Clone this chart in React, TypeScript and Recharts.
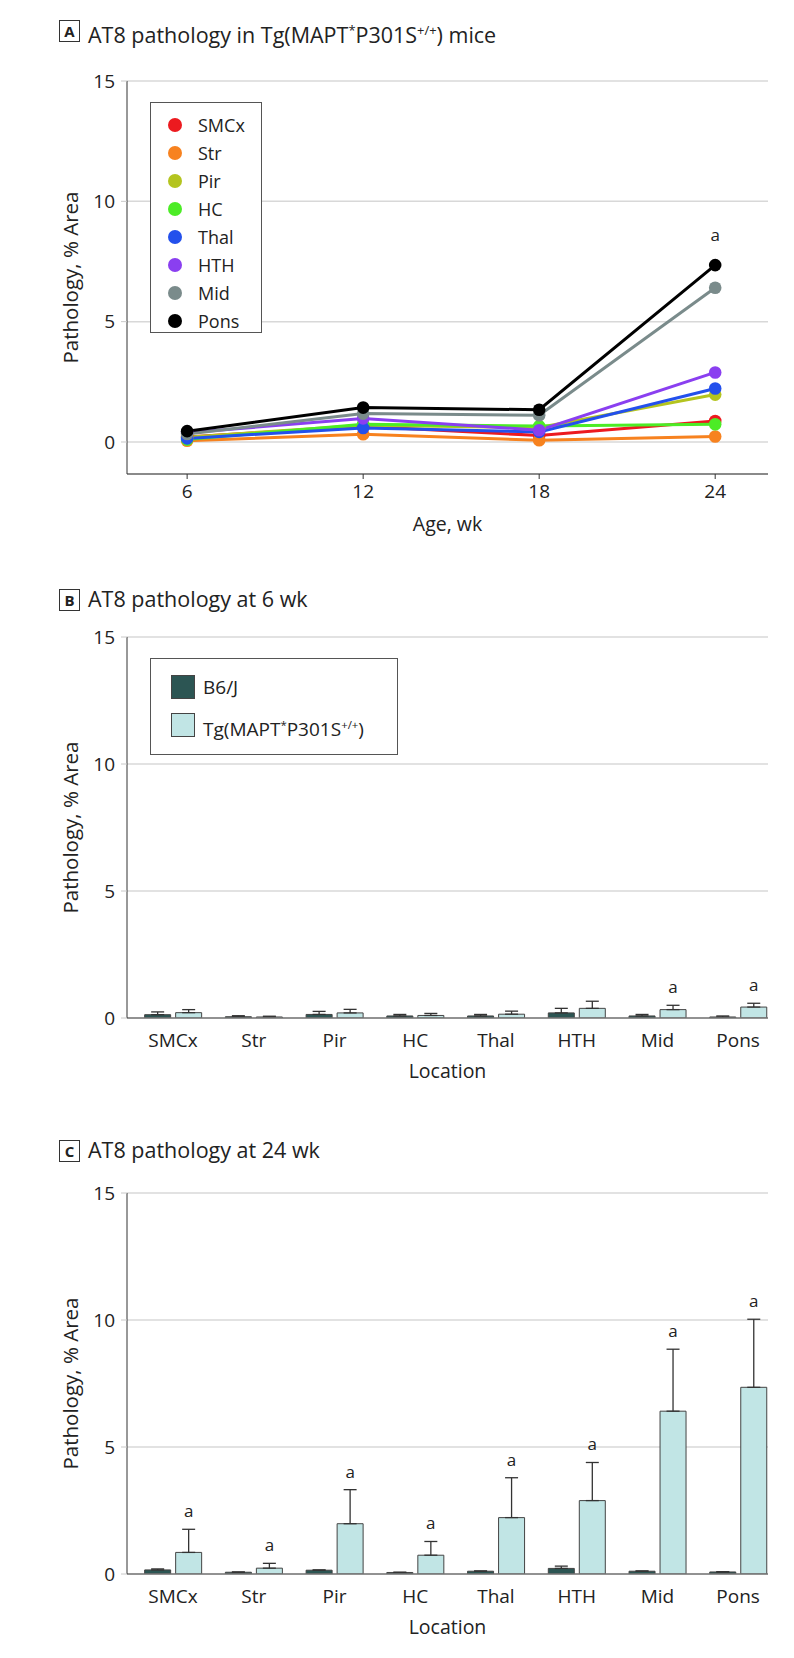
import React from 'react';
import { LineChart, Line, BarChart, Bar, XAxis, YAxis, CartesianGrid, ErrorBar, LabelList, Label } from 'recharts';

const FONT = "'Open Sans', 'Noto Sans', 'DejaVu Sans', sans-serif";
const INK = '#222';

const regions = ['SMCx', 'Str', 'Pir', 'HC', 'Thal', 'HTH', 'Mid', 'Pons'];
const regionColors = ['#ec1a1f', '#f7821f', '#b4c41f', '#4cec26', '#2350ec', '#8a3ff0', '#7a8b8b', '#000000'];

// panel A: % area at 6, 12, 18, 24 wk
const ages = [6, 12, 18, 24];
const smcx = [0.21, 0.65, 0.27, 0.87];
const str = [0.05, 0.32, 0.07, 0.23];
const pir = [0.2, 0.7, 0.6, 1.97];
const hc = [0.1, 0.74, 0.66, 0.74];
const thal = [0.15, 0.58, 0.42, 2.22];
const hth = [0.38, 0.98, 0.49, 2.89];
const mid = [0.33, 1.18, 1.11, 6.41];
const pons = [0.45, 1.43, 1.34, 7.35];
const ponsSig = [false, false, false, true];
const seriesA = [smcx, str, pir, hc, thal, hth, mid, pons];

// panel B: 6 wk
const b6At6 = [0.13, 0.05, 0.14, 0.08, 0.08, 0.2, 0.08, 0.04];
const b6At6Err = [0.11, 0.04, 0.12, 0.06, 0.06, 0.18, 0.06, 0.04];
const tgAt6 = [0.21, 0.04, 0.2, 0.1, 0.15, 0.38, 0.33, 0.43];
const tgAt6Err = [0.12, 0.03, 0.14, 0.08, 0.12, 0.28, 0.17, 0.15];
const sigAt6 = [false, false, false, false, false, false, true, true];

// panel C: 24 wk
const b6At24 = [0.16, 0.07, 0.15, 0.06, 0.11, 0.22, 0.11, 0.08];
const b6At24Err = [0.04, 0.01, 0.01, 0.01, 0.01, 0.09, 0.01, 0.01];
const tgAt24 = [0.85, 0.23, 1.98, 0.74, 2.22, 2.89, 6.41, 7.35];
const tgAt24Err = [0.91, 0.19, 1.34, 0.54, 1.57, 1.5, 2.44, 2.68];
const sigAt24 = [true, true, true, true, true, true, true, true];

const yTicks = [0, 5, 10, 15];
const regionTicks = [0, 1, 2, 3, 4, 5, 6, 7];

const tickStyle = { fill: INK, fontSize: 19, fontFamily: FONT };

const yTitle = (props: any) => {
  const vb = props.viewBox;
  const cx = vb.x + 3;
  const cy = vb.y + vb.height / 2;
  return (
    <text x={cx} y={cy} transform={`rotate(-90, ${cx}, ${cy})`} textAnchor="middle" dominantBaseline="central"
      fill={INK} fontSize={20.5} fontFamily={FONT}>
      Pathology, % Area
    </text>
  );
};

const xTitle = (text: string, dy: number) => (props: any) => {
  const vb = props.viewBox;
  return (
    <text x={vb.x + vb.width / 2} y={vb.y + dy} textAnchor="middle" fill={INK} fontSize={19.5} fontFamily={FONT}>
      {text}
    </text>
  );
};

const PanelTitle = ({ letter, top, children }: any) => (
  <div style={{ position: 'absolute', left: 0, top, height: 22, fontFamily: FONT, color: INK }}>
    <div style={{ position: 'absolute', left: 59, top: 0, width: 19, height: 20, border: '1px solid #333',
      fontWeight: 700, fontSize: 15, lineHeight: '20px', textAlign: 'center' }}>{letter}</div>
    <div style={{ position: 'absolute', left: 88, top: -4, fontSize: 21.5, whiteSpace: 'nowrap', lineHeight: '28px' }}>{children}</div>
  </div>
);

const Geno = () => (
  <>Tg(MAPT<sup style={{ fontSize: '0.6em' }}>*</sup>P301S<sup style={{ fontSize: '0.6em' }}>+/+</sup>)</>
);

const PanelA = () => {
  const rows = ages.map((age, i) => {
    const row: any = { age };
    regions.forEach((r, k) => { row[r] = seriesA[k][i]; });
    return row;
  });
  return (
    <LineChart width={794} height={545} data={rows} margin={{ top: 81, right: 26, left: 67, bottom: 31 }}>
      <CartesianGrid vertical={false} stroke="#d8d8d8" strokeWidth={1.5} />
      <XAxis dataKey="age" type="number" domain={[3.95, 25.8]} ticks={ages} allowDataOverflow height={40} tickSize={5}
        tickMargin={6} axisLine={{ stroke: '#333' }} tickLine={{ stroke: '#333' }} tick={tickStyle}>
        <Label content={xTitle('Age, wk', 57)} />
      </XAxis>
      <YAxis type="number" domain={[-1.33, 15]} ticks={yTicks} allowDataOverflow width={60} tickSize={6} tickMargin={6}
        axisLine={{ stroke: '#333' }} tickLine={{ stroke: '#c8c8c8' }} tick={tickStyle}>
        <Label content={yTitle} />
      </YAxis>
      {regions.map((r, k) => (
        <Line key={r} dataKey={r} stroke={regionColors[k]} strokeWidth={3} isAnimationActive={false}
          dot={{ r: 6.3, fill: regionColors[k], stroke: regionColors[k], strokeWidth: 0 }}>
          {r === 'Pons' && (
            <LabelList dataKey={r} content={(p: any) => ponsSig[p.index] ? (
              <text x={p.x} y={p.y - 24} textAnchor="middle" fill={INK} fontSize={17} fontFamily={FONT}>a</text>
            ) : null} />
          )}
        </Line>
      ))}
    </LineChart>
  );
};

const BarPanel = ({ height, top, b6, b6Err, tg, tgErr, sig }: any) => {
  const rows = regions.map((name, i) => ({
    idx: i, name, b6: b6[i], b6Err: [0, b6Err[i]], tg: tg[i], tgErr: [0, tgErr[i]],
  }));
  const sigLabel = (p: any) => {
    const vb = p.viewBox || p;
    const i = p.index;
    if (!sig[i]) return null;
    const perUnit = vb.height / tg[i];
    const errTop = vb.y - tgErr[i] * perUnit;
    return (
      <text x={vb.x + vb.width / 2} y={errTop - 12} textAnchor="middle" fill={INK} fontSize={17} fontFamily={FONT}>a</text>
    );
  };
  return (
    <BarChart width={794} height={height} data={rows} barGap={5}
      margin={{ top, right: 26, left: 67, bottom: height - top - 381 - 40 }}>
      <CartesianGrid vertical={false} stroke="#d8d8d8" strokeWidth={1.5} />
      <XAxis dataKey="idx" type="number" domain={[-0.57, 7.37]} ticks={regionTicks} interval={0} allowDataOverflow
        tickFormatter={(i: number) => regions[i]} height={40} tickSize={6} tickMargin={10}
        axisLine={{ stroke: '#777', strokeWidth: 1.5 }} tickLine={false} tick={tickStyle}>
        <Label content={xTitle('Location', 60)} />
      </XAxis>
      <YAxis type="number" domain={[0, 15]} ticks={yTicks} allowDataOverflow width={60} tickSize={6} tickMargin={6}
        axisLine={{ stroke: '#333' }} tickLine={{ stroke: '#c8c8c8' }} tick={tickStyle}>
        <Label content={yTitle} />
      </YAxis>
      <Bar dataKey="b6" fill="#2c5553" stroke="#444" strokeWidth={1} barSize={26} isAnimationActive={false}>
        <ErrorBar dataKey="b6Err" width={6.5} stroke="#333" strokeWidth={1.3} />
      </Bar>
      <Bar dataKey="tg" fill="#c1e5e5" stroke="#444" strokeWidth={1} barSize={26} isAnimationActive={false}>
        <ErrorBar dataKey="tgErr" width={6.5} stroke="#333" strokeWidth={1.3} />
        <LabelList dataKey="tg" content={sigLabel} />
      </Bar>
    </BarChart>
  );
};

export default function App() {
  return (
    <div style={{ position: 'absolute', left: 0, top: 0, width: 794, height: 1658, background: '#fff' }}>
      <PanelTitle letter="A" top={20}>AT8 pathology in <Geno /> mice</PanelTitle>
      <div style={{ position: 'absolute', left: 0, top: 0 }}>
        <PanelA />
      </div>
      <div style={{ position: 'absolute', left: 150, top: 102, width: 112, height: 231, border: '1px solid #555',
        paddingTop: 8, boxSizing: 'border-box', background: '#fff', fontFamily: FONT, color: INK }}>
        {regions.map((r, k) => (
          <div key={r} style={{ height: 28, display: 'flex', alignItems: 'center' }}>
            <span style={{ display: 'inline-block', width: 14, height: 14, borderRadius: 7, background: regionColors[k],
              marginLeft: 17, marginRight: 16 }} />
            <span style={{ fontSize: 18 }}>{r}</span>
          </div>
        ))}
      </div>

      <PanelTitle letter="B" top={589}>AT8 pathology at 6 wk</PanelTitle>
      <div style={{ position: 'absolute', left: 0, top: 560 }}>
        <BarPanel height={540} top={77} b6={b6At6} b6Err={b6At6Err} tg={tgAt6} tgErr={tgAt6Err} sig={sigAt6} />
      </div>
      <div style={{ position: 'absolute', left: 150, top: 658, width: 248, height: 97, border: '1px solid #555',
        boxSizing: 'border-box', background: '#fff', fontFamily: FONT, color: INK, paddingTop: 16 }}>
        {[['B6/J', '#2c5553'], ['tg', '#c1e5e5']].map(([name, fill]) => (
          <div key={name} style={{ height: 38, display: 'flex', alignItems: 'flex-start' }}>
            <span style={{ display: 'inline-block', width: 24, height: 24, boxSizing: 'border-box', background: fill,
              border: '1px solid #444', marginLeft: 20, marginRight: 8 }} />
            <span style={{ fontSize: 19, lineHeight: '24px', whiteSpace: 'nowrap' }}>{name === 'tg' ? <Geno /> : name}</span>
          </div>
        ))}
      </div>

      <PanelTitle letter="C" top={1140}>AT8 pathology at 24 wk</PanelTitle>
      <div style={{ position: 'absolute', left: 0, top: 1120 }}>
        <BarPanel height={538} top={73} b6={b6At24} b6Err={b6At24Err} tg={tgAt24} tgErr={tgAt24Err} sig={sigAt24} />
      </div>
    </div>
  );
}
